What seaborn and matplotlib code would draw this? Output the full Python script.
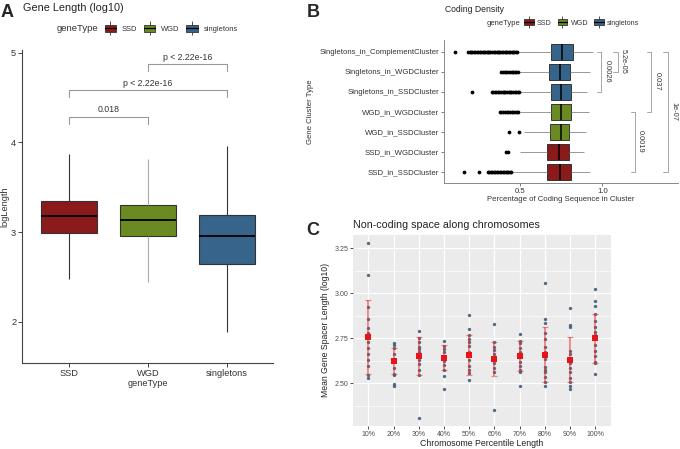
import numpy as np
import pandas as pd
import matplotlib
matplotlib.use('Agg')
import matplotlib.pyplot as plt
import seaborn as sns
from matplotlib.patches import Patch
from matplotlib.lines import Line2D
from matplotlib.ticker import MultipleLocator

# ---- panel A: gene length (log10), box summary per gene type ----
gene_types = ['SSD', 'WGD', 'singletons']
type_colors = ['#8B1A1A', '#698B22', '#36648B']
len_low = [2.476, 2.446, 1.880]
len_q1 = [2.985, 2.955, 2.640]
len_med = [3.175, 3.137, 2.960]
len_q3 = [3.345, 3.300, 3.190]
len_high = [3.866, 3.810, 3.960]
len_pairs = [(0, 1), (0, 2), (1, 2)]
len_pvals = ['0.018', 'p < 2.22e-16', 'p < 2.22e-16']
len_bracket_y = [4.285, 4.58, 4.87]

# ---- panel B: coding density per gene cluster type ----
clusters = ['Singletons_in_ComplementCluster', 'Singletons_in_WGDCluster',
            'Singletons_in_SSDCluster', 'WGD_in_WGDCluster', 'WGD_in_SSDCluster',
            'SSD_in_WGDCluster', 'SSD_in_SSDCluster']
cluster_type = ['singletons', 'singletons', 'singletons', 'WGD', 'WGD', 'SSD', 'SSD']
cod_low = [0.488, 0.490, 0.500, 0.498, 0.524, 0.498, 0.450]
cod_q1 = [0.687, 0.677, 0.685, 0.685, 0.681, 0.661, 0.661]
cod_med = [0.757, 0.741, 0.747, 0.749, 0.751, 0.736, 0.740]
cod_q3 = [0.819, 0.803, 0.808, 0.812, 0.800, 0.800, 0.808]
cod_high = [0.946, 0.925, 0.905, 0.921, 0.899, 0.888, 0.925]
out_complement = [0.101, 0.183, 0.191, 0.202, 0.208, 0.219, 0.226, 0.233, 0.245, 0.252,
                  0.259, 0.270, 0.276, 0.287, 0.295, 0.301, 0.312, 0.318, 0.329, 0.337,
                  0.344, 0.355, 0.361, 0.372, 0.379, 0.388, 0.397, 0.404, 0.415, 0.421,
                  0.432, 0.439, 0.448, 0.457, 0.463, 0.474, 0.481]
out_single_wgd = [0.383, 0.392, 0.404, 0.415, 0.428, 0.437, 0.449, 0.458, 0.466, 0.474, 0.483]
out_single_ssd = [0.207, 0.326, 0.334, 0.345, 0.352, 0.361, 0.373, 0.380, 0.392, 0.401,
                  0.409, 0.418, 0.430, 0.437, 0.446, 0.458, 0.465, 0.474, 0.483, 0.491]
out_wgd_wgd = [0.376, 0.385, 0.397, 0.406, 0.418, 0.427, 0.436, 0.448, 0.457, 0.469, 0.478, 0.488]
out_wgd_ssd = [0.433, 0.494]
out_ssd_wgd = [0.412, 0.427]
out_ssd_ssd = [0.157, 0.250, 0.305, 0.312, 0.321, 0.330, 0.339, 0.348, 0.356, 0.366,
               0.374, 0.383, 0.392, 0.401, 0.410, 0.419, 0.428, 0.437, 0.446]
cod_pairs = [(0, 1), (0, 2), (0, 3), (0, 6), (3, 6)]
cod_pvals = ['5.2e-05', '0.0026', '0.037', '1e-07', '0.0019']
cod_bracket_x = [1.094, 0.992, 1.297, 1.399, 1.199]

# ---- panel C: mean gene spacer length along chromosome ----
bins = ['10%', '20%', '30%', '40%', '50%', '60%', '70%', '80%', '90%', '100%']
sp_10 = [3.278, 3.102, 2.926, 2.857, 2.806, 2.778, 2.756, 2.731, 2.694, 2.661, 2.630, 2.596, 2.546, 2.531]
sp_20 = [2.722, 2.713, 2.698, 2.665, 2.624, 2.583, 2.553, 2.548, 2.494, 2.487]
sp_30 = [2.793, 2.754, 2.728, 2.704, 2.690, 2.676, 2.661, 2.646, 2.630, 2.606, 2.574, 2.546, 2.309]
sp_40 = [2.735, 2.709, 2.693, 2.676, 2.643, 2.624, 2.602, 2.574, 2.543, 2.470]
sp_50 = [2.878, 2.800, 2.769, 2.746, 2.728, 2.707, 2.676, 2.656, 2.630, 2.598, 2.574, 2.556, 2.517]
sp_60 = [2.828, 2.731, 2.704, 2.685, 2.661, 2.637, 2.615, 2.583, 2.561, 2.350]
sp_70 = [2.774, 2.735, 2.722, 2.694, 2.672, 2.648, 2.620, 2.596, 2.574, 2.565, 2.487]
sp_80 = [3.059, 2.856, 2.833, 2.778, 2.744, 2.704, 2.676, 2.659, 2.633, 2.593, 2.574, 2.561, 2.537, 2.506, 2.487]
sp_90 = [2.917, 2.824, 2.815, 2.680, 2.661, 2.633, 2.611, 2.583, 2.565, 2.528, 2.509, 2.487, 2.467]
sp_100 = [3.024, 2.957, 2.931, 2.883, 2.846, 2.815, 2.787, 2.769, 2.750, 2.713, 2.681, 2.652, 2.620, 2.615, 2.552]
spacer_mean = [2.756, 2.624, 2.650, 2.643, 2.656, 2.636, 2.651, 2.658, 2.632, 2.750]
spacer_sd = [0.205, 0.074, 0.106, 0.070, 0.112, 0.095, 0.082, 0.153, 0.126, 0.135]

sns.set_theme(style='white')
plt.rcParams['font.family'] = ['Liberation Sans', 'DejaVu Sans']

W, H = 680, 449
fig = plt.figure(figsize=(W / 100, H / 100), dpi=100)


def fx(px):
    return px / W


def fy(py):
    return 1 - py / H


def box_key(c, vsize):
    # ggplot-like boxplot legend key: whisker, box, median
    return (Line2D([], [], color='#333333', marker='|', markersize=vsize, mew=0.6, linestyle='none'),
            Patch(facecolor=c, edgecolor='#333333', lw=0.6),
            Line2D([], [], color='black', lw=0.9))


# ================= Panel A =================
axA = fig.add_axes([fx(22), fy(362.7), fx(251), 312.7 / H])
len_df = pd.DataFrame({
    'geneType': np.repeat(gene_types, 5),
    'logLength': np.column_stack([len_low, len_q1, len_med, len_q3, len_high]).ravel(),
})
sns.boxplot(data=len_df, x='geneType', y='logLength', hue='geneType', order=gene_types,
            hue_order=gene_types, palette=type_colors, width=0.7, whis=(0, 100),
            showfliers=False, showcaps=False, saturation=1, linecolor='#333333',
            linewidth=0.8, medianprops=dict(color='black', linewidth=1.3),
            legend=False, ax=axA)
for ln in axA.lines:
    xd = np.asarray(ln.get_xdata(), dtype=float)
    if len(xd) == 2 and np.allclose(xd, 1.0):
        ln.set_color('#aaaaaa')

for (i, j), lab, yb in zip(len_pairs, len_pvals, len_bracket_y):
    axA.plot([i, i, j, j], [yb - 0.075, yb, yb, yb - 0.075], color='#999999', lw=0.8, clip_on=False)
    axA.text((i + j) / 2, yb + 0.03, lab, ha='center', va='bottom', fontsize=6.3, color='#333333')

axA.set_xlim(-0.595, 2.58)
axA.set_ylim(1.543, 5.03)
axA.set_yticks([2, 3, 4, 5])
sns.despine(ax=axA)
for s in ['left', 'bottom']:
    axA.spines[s].set_color('#444444')
    axA.spines[s].set_linewidth(0.8)
axA.tick_params(bottom=True, left=True, length=3, width=0.7, color='#444444',
                labelsize=6.7, labelcolor='#333333', pad=1.2)
axA.set_xlabel('geneType', fontsize=6.6, color='#333333', labelpad=1)
axA.set_ylabel('logLength', fontsize=6.7, color='#333333')
axA.yaxis.set_label_coords(-0.052, 0.5)

fig.text(fx(0.5), fy(17.3), 'A', fontsize=13, fontweight='bold', va='baseline')
fig.text(fx(23), fy(11), 'Gene Length (log10)', fontsize=7.8, color='#222222', va='baseline')
fig.text(fx(57), fy(31.3), 'geneType', fontsize=6.8, color='#333333', va='baseline')
fig.legend([box_key(c, 10) for c in type_colors], gene_types, loc='center left',
           bbox_to_anchor=(fx(104.7), fy(29.3)), frameon=False, ncol=3, fontsize=5.4,
           handlelength=1.5, handleheight=1.0, handletextpad=0.75, columnspacing=0.95,
           borderpad=0, borderaxespad=0, labelcolor='#333333')

# ================= Panel B =================
axB = fig.add_axes([fx(444.3), fy(182.7), fx(678 - 444.3), 142.7 / H])
cod_df = pd.DataFrame({
    'cluster': np.repeat(clusters, 5),
    'geneType': np.repeat(cluster_type, 5),
    'coding': np.column_stack([cod_low, cod_q1, cod_med, cod_q3, cod_high]).ravel(),
})
sns.boxplot(data=cod_df, x='coding', y='cluster', hue='geneType', order=clusters,
            hue_order=gene_types, palette=type_colors, orient='h', dodge=False, width=0.8,
            whis=(0, 100), showfliers=False, showcaps=False, saturation=1,
            linecolor='#222222', linewidth=0.6,
            medianprops=dict(color='black', linewidth=1.1),
            whiskerprops=dict(color='#888888'), legend=False, ax=axB)

outlier_sets = [out_complement, out_single_wgd, out_single_ssd, out_wgd_wgd,
                out_wgd_ssd, out_ssd_wgd, out_ssd_ssd]
out_df = pd.DataFrame({
    'cluster': np.concatenate([[c] * len(o) for c, o in zip(clusters, outlier_sets)]),
    'coding': np.concatenate(outlier_sets),
})
sns.stripplot(data=out_df, x='coding', y='cluster', order=clusters, orient='h',
              jitter=False, color='black', size=2.7, linewidth=0, ax=axB)

for (i, j), lab, xb in zip(cod_pairs, cod_pvals, cod_bracket_x):
    axB.plot([xb - 0.027, xb, xb, xb - 0.027], [i, i, j, j], color='#999999', lw=0.6, clip_on=False)
    axB.text(xb + 0.014, (i + j) / 2, lab, rotation=270, ha='left', va='center',
             fontsize=5.3, color='#333333')

axB.set_xlim(0.0366, 1.4616)
axB.set_ylim(6.55, -0.585)
axB.set_xticks([0.5, 1.0])
axB.set_xticklabels(['0.5', '1.0'])
sns.despine(ax=axB)
for s in ['left', 'bottom']:
    axB.spines[s].set_color('#888888')
    axB.spines[s].set_linewidth(0.7)
axB.tick_params(bottom=True, left=True, length=2.5, width=0.6, color='#666666',
                labelsize=5.6, labelcolor='#333333', pad=1.2)
axB.set_xlabel('Percentage of Coding Sequence in Cluster', fontsize=5.6, color='#333333', labelpad=1)
axB.set_ylabel('Gene Cluster Type', fontsize=5.6, color='#333333', labelpad=4)

fig.text(fx(306.7), fy(16.7), 'B', fontsize=13, fontweight='bold', va='baseline')
fig.text(fx(445), fy(12), 'Coding Density', fontsize=6.2, color='#222222', va='baseline')
fig.text(fx(486.7), fy(24.8), 'geneType', fontsize=5.5, color='#333333', va='baseline')
fig.legend([box_key(c, 9) for c in type_colors], gene_types, loc='center left',
           bbox_to_anchor=(fx(524), fy(22.9)), frameon=False, ncol=3, fontsize=5.1,
           handlelength=1.4, handleheight=1.0, handletextpad=0.45, columnspacing=0.8,
           borderpad=0, borderaxespad=0, labelcolor='#333333')

# ================= Panel C =================
axC = fig.add_axes([fx(353.3), fy(425.7), fx(257.4), 190.7 / H])
sp_sets = [sp_10, sp_20, sp_30, sp_40, sp_50, sp_60, sp_70, sp_80, sp_90, sp_100]
sp_df = pd.DataFrame({
    'bin': np.concatenate([[b] * len(v) for b, v in zip(bins, sp_sets)]),
    'spacer': np.concatenate(sp_sets),
})
axC.set_facecolor('#EBEBEB')
axC.set_axisbelow(True)
sns.stripplot(data=sp_df, x='bin', y='spacer', order=bins, jitter=False,
              color='#3E5B78', size=2.4, alpha=0.9, linewidth=0, ax=axC)
eb = axC.errorbar(np.arange(len(bins)), spacer_mean, yerr=spacer_sd, fmt='none',
                  ecolor=(0.9, 0.2, 0.2, 0.55), elinewidth=1.4, capsize=2.2, capthick=0.9,
                  zorder=4)
for cap in eb[1]:
    cap.set_color('#D92B2B')
# mean markers
axC.plot(np.arange(len(bins)), spacer_mean, linestyle='none', marker='s',
         color='#E8141A', markersize=4, markeredgewidth=0, zorder=6)

axC.set_xlim(-0.595, 9.61)
axC.set_ylim(2.2644, 3.324)
axC.set_yticks([2.5, 2.75, 3.0, 3.25])
axC.set_yticklabels(['2.50', '2.75', '3.00', '3.25'])
axC.yaxis.set_minor_locator(MultipleLocator(0.125))
axC.grid(True, which='major', color='white', lw=0.9)
axC.grid(True, which='minor', axis='y', color='white', lw=0.45)
for s in axC.spines.values():
    s.set_visible(False)
axC.tick_params(which='major', bottom=True, left=True, length=2, width=0.6, color='#333333',
                labelsize=5, labelcolor='#4D4D4D', pad=1.5)
axC.tick_params(which='minor', length=0)
axC.set_xlabel('Chromosome Percentile Length', fontsize=6.3, color='#222222', labelpad=1)
axC.set_ylabel('Mean Gene Spacer Length (log10)', fontsize=6.2, color='#222222', labelpad=3)

fig.text(fx(306.7), fy(235), 'C', fontsize=13, fontweight='bold', va='baseline')
fig.text(fx(352.7), fy(228), 'Non-coding space along chromosomes', fontsize=7.7,
         color='#222222', va='baseline')

fig.savefig('out.png', dpi=100)
